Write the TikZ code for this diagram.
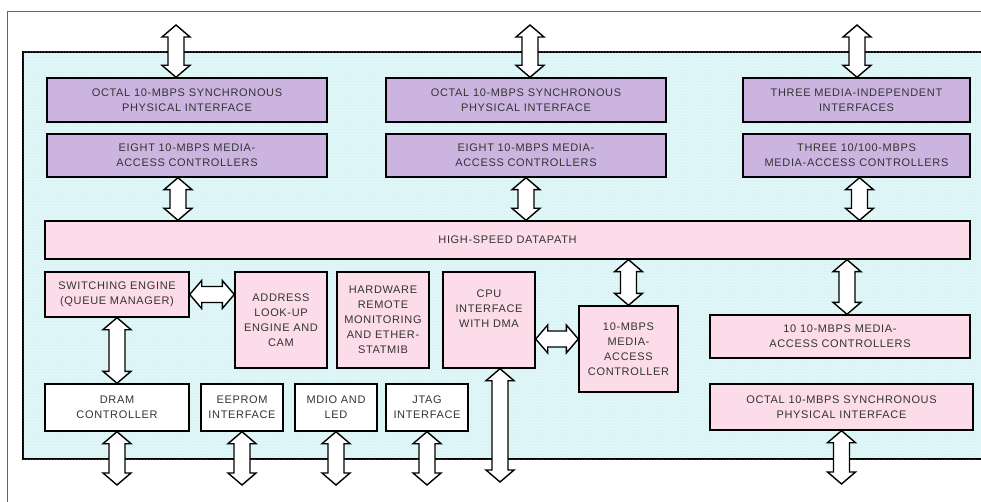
\documentclass[tikz,border=0pt]{standalone}
\usepackage{fontspec}
\setmainfont{Liberation Sans}[LetterSpace=6]
\usepackage{tikz}
\usetikzlibrary{calc, patterns}
\definecolor{bgcyan}{RGB}{222,247,249}
\definecolor{phyviolet}{RGB}{204,180,224}
\definecolor{blockpink}{RGB}{252,220,232}
\tikzstyle{box} = [rectangle, draw=black, line width=1.4pt, inner sep=0pt, text centered, align=center, font=\fontsize{11}{15}\selectfont, text=black!80]
\tikzstyle{phy} = [box, fill=phyviolet]
\tikzstyle{block} = [box, fill=blockpink]
\tikzstyle{iface} = [box, fill=white]
\tikzstyle{bus} = [draw=black, line width=1.4pt, fill=white, line join=miter]
% fat double arrows: upper/left end first
\newcommand{\busv}[2]{%
  \draw[bus] let \p1=#1, \p2=#2 in
    (\x1,\y1) -- (\x1+14pt,\y1-12pt) -- (\x1+8pt,\y1-12pt)
    -- (\x1+8pt,\y2+12pt) -- (\x1+14pt,\y2+12pt) -- (\x1,\y2)
    -- (\x1-14pt,\y2+12pt) -- (\x1-8pt,\y2+12pt)
    -- (\x1-8pt,\y1-12pt) -- (\x1-14pt,\y1-12pt) -- cycle;}
\newcommand{\bush}[2]{%
  \draw[bus] let \p1=#1, \p2=#2 in
    (\x1,\y1) -- (\x1+12pt,\y1+14pt) -- (\x1+12pt,\y1+8pt)
    -- (\x2-12pt,\y1+8pt) -- (\x2-12pt,\y1+14pt) -- (\x2,\y1)
    -- (\x2-12pt,\y1-14pt) -- (\x2-12pt,\y1-8pt)
    -- (\x1+12pt,\y1-8pt) -- (\x1+12pt,\y1-14pt) -- cycle;}

\begin{document}
\begin{tikzpicture}[x=1pt, y=-1pt]
    \clip (0,0) rectangle (981,502);
    % frame and chip background
    \draw [black!60, line width=1pt] (7,502) -- (7,12) -- (990,12);
    \draw [line width=1.2pt, fill=bgcyan, postaction={pattern=dots, pattern color=black!15}] (23,52) rectangle (995,459);

    % port blocks on top
    \node (octA) [phy, minimum width=280, minimum height=44] at (187,100) {OCTAL 10-MBPS SYNCHRONOUS\\PHYSICAL INTERFACE};
    \node (eightA) [phy, minimum width=280, minimum height=43] at (187,155.5) {EIGHT 10-MBPS MEDIA-\\ACCESS CONTROLLERS};
    \node (octB) [phy, minimum width=280, minimum height=44] at (526,100) {OCTAL 10-MBPS SYNCHRONOUS\\PHYSICAL INTERFACE};
    \node (eightB) [phy, minimum width=280, minimum height=43] at (526,155.5) {EIGHT 10-MBPS MEDIA-\\ACCESS CONTROLLERS};
    \node (miiC) [phy, minimum width=227, minimum height=44] at (856.5,100) {THREE MEDIA-INDEPENDENT\\INTERFACES};
    \node (threeC) [phy, minimum width=227, minimum height=43] at (856.5,155.5) {THREE 10/100-MBPS\\MEDIA-ACCESS CONTROLLERS};

    \node (dpath) [block, minimum width=925, minimum height=38] at (507.5,240) {HIGH-SPEED DATAPATH};

    % core blocks
    \node (sweng) [block, minimum width=144, minimum height=45] at (117,294.5) {SWITCHING ENGINE\\(QUEUE MANAGER)};
    \node (alu) [block, minimum width=92, minimum height=96] at (281,320) {ADDRESS\\LOOK-UP\\ENGINE AND\\CAM};
    \node (hwmon) [block, minimum width=92, minimum height=96] at (383,320) {HARDWARE\\REMOTE\\MONITORING\\AND ETHER-\\STATMIB};
    \node (cpu) [block, minimum width=92, minimum height=96] at (489,320) {CPU\\INTERFACE\\WITH DMA\\[8pt]};
    \node (mac) [block, minimum width=99, minimum height=86] at (628.5,349) {10-MBPS\\MEDIA-\\ACCESS\\CONTROLLER};
    \node (macs10) [block, minimum width=260, minimum height=43] at (840,336.5) {10 10-MBPS MEDIA-\\ACCESS CONTROLLERS};
    \node (octD) [block, minimum width=263, minimum height=46] at (841.5,407) {OCTAL 10-MBPS SYNCHRONOUS\\PHYSICAL INTERFACE};

    % external interfaces
    \node (dram) [iface, minimum width=144, minimum height=47] at (117,407.5) {DRAM\\CONTROLLER};
    \node (eeprom) [iface, minimum width=82, minimum height=47] at (242,407.5) {EEPROM\\INTERFACE};
    \node (mdio) [iface, minimum width=82, minimum height=47] at (336,407.5) {MDIO AND\\LED};
    \node (jtag) [iface, minimum width=82, minimum height=47] at (427,407.5) {JTAG\\INTERFACE};

    % free ends outside the chip
    \coordinate (extA) at (176,25);
    \coordinate (extB) at (530,25);
    \coordinate (extC) at (857,25);
    \coordinate (extCpu) at (500,482);
    \coordinate (extDram) at (117,485);
    \coordinate (extEeprom) at (242,485);
    \coordinate (extMdio) at (336,485);
    \coordinate (extJtag) at (427,485);
    \coordinate (extOct) at (841.5,484);

    \busv{(extA)}{(extA |- octA.north)}
    \busv{(extB)}{(extB |- octB.north)}
    \busv{(extC)}{(extC |- miiC.north)}
    \busv{([xshift=-9pt]eightA.south)}{([xshift=-9pt]eightA.south |- dpath.north)}
    \busv{(eightB.south)}{(eightB.south |- dpath.north)}
    \busv{([xshift=3pt]threeC.south)}{([xshift=3pt]threeC.south |- dpath.north)}
    \bush{(sweng.east)}{(sweng.east -| alu.west)}
    \busv{(sweng.south)}{(dram.north)}
    \busv{(dpath.south -| mac.north)}{(mac.north)}
    \bush{([yshift=10pt]mac.west -| cpu.east)}{([yshift=10pt]mac.west)}
    \busv{([xshift=7pt]macs10.north |- dpath.south)}{([xshift=7pt]macs10.north)}
    \busv{(cpu.south -| extCpu)}{(extCpu)}
    \busv{(dram.south)}{(extDram)}
    \busv{(eeprom.south)}{(extEeprom)}
    \busv{(mdio.south)}{(extMdio)}
    \busv{(jtag.south)}{(extJtag)}
    \busv{(octD.south)}{(extOct)}
\end{tikzpicture}
\end{document}
